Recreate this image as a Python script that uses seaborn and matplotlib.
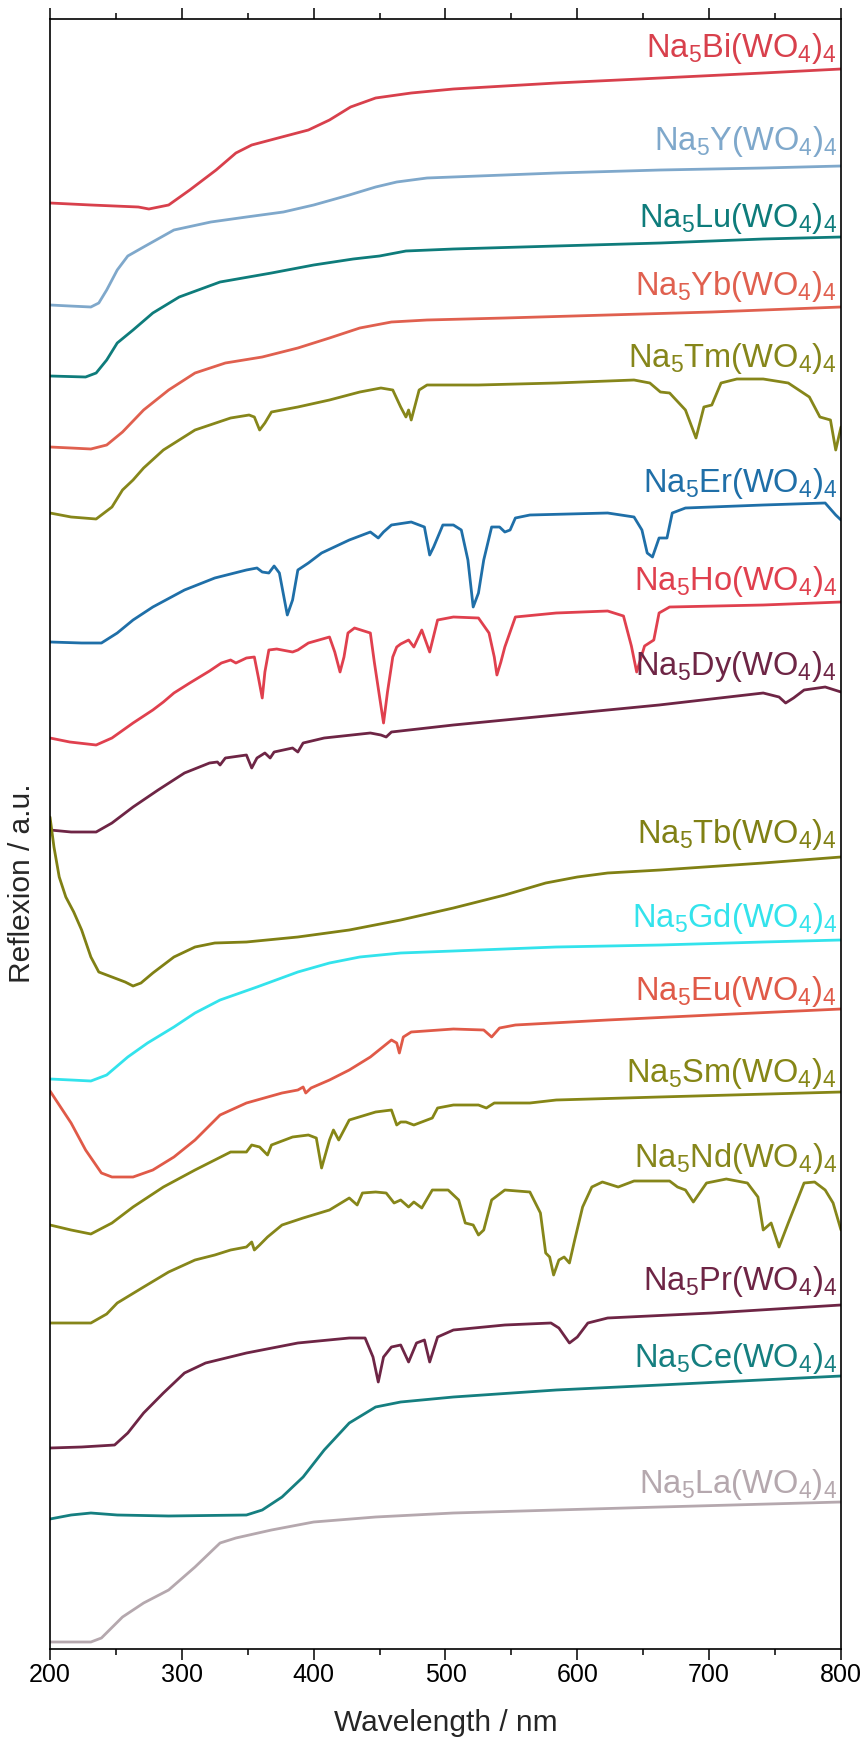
import matplotlib
matplotlib.use("Agg")
import matplotlib.pyplot as plt
import seaborn as sns
from matplotlib.ticker import MultipleLocator

# ---------------- data (wavelength / nm, reflexion / a.u., stacked) ----------------
wl_bi = [200, 231, 267, 275, 290, 306, 326, 341, 353, 373, 396, 412, 428, 447, 474, 506, 584, 663, 741, 800]
r_bi = [1444, 1442, 1440, 1438, 1442, 1457, 1477, 1494, 1502, 1509, 1517, 1527, 1540, 1549, 1554, 1558, 1564, 1569, 1574, 1578]

wl_y = [200, 215, 231, 237, 243, 251, 259, 271, 294, 322, 349, 377, 400, 427, 447, 463, 486, 525, 584, 663, 741, 800]
r_y = [1342, 1341, 1340, 1344, 1357, 1377, 1391, 1400, 1417, 1425, 1430, 1435, 1442, 1452, 1460, 1465, 1469, 1471, 1474, 1477, 1479, 1481]

wl_lu = [200, 227, 235, 243, 251, 263, 278, 298, 329, 368, 400, 430, 450, 470, 506, 584, 663, 741, 800]
r_lu = [1271, 1270, 1274, 1287, 1304, 1317, 1334, 1350, 1365, 1374, 1382, 1388, 1391, 1396, 1398, 1401, 1404, 1408, 1410]

wl_yb = [200, 216, 231, 243, 255, 271, 290, 310, 333, 361, 388, 412, 435, 459, 486, 545, 623, 702, 800]
r_yb = [1200, 1199, 1198, 1202, 1215, 1237, 1257, 1274, 1284, 1290, 1299, 1309, 1319, 1325, 1327, 1329, 1332, 1335, 1340]

wl_tm = [200, 216, 235, 247, 255, 263, 271, 286, 310, 337, 351, 355, 359, 363, 368, 388, 412, 435, 451,
         460, 466, 470, 472, 474, 480, 486, 525, 584, 643, 655, 663, 670, 682, 690, 696, 702, 709, 721,
         741, 760, 776, 784, 792, 796, 800]
r_tm = [1134, 1130, 1128, 1140, 1157, 1167, 1179, 1197, 1217, 1229, 1232, 1230, 1217, 1224, 1235, 1240, 1247, 1255, 1259,
        1257, 1240, 1230, 1237, 1227, 1257, 1262, 1262, 1264, 1267, 1264, 1255, 1254, 1237, 1209, 1240, 1242, 1264, 1268,
        1268, 1264, 1250, 1230, 1227, 1197, 1220]

wl_er = [200, 224, 239, 251, 263, 278, 302, 325, 349, 357, 361, 366, 370, 374, 380, 384, 388, 396, 406, 427,
         443, 449, 453, 459, 474, 484, 488, 491, 498, 506, 512, 517, 521, 525, 529, 535, 541, 545, 549, 553,
         564, 623, 643, 649, 653, 657, 662, 668, 672, 682, 741, 788, 796, 800]
r_er = [1005, 1004, 1004, 1014, 1027, 1040, 1057, 1069, 1077, 1079, 1075, 1074, 1081, 1074, 1032, 1047, 1077, 1084, 1094, 1107,
        1115, 1109, 1115, 1122, 1125, 1120, 1092, 1100, 1122, 1122, 1117, 1087, 1040, 1054, 1087, 1120, 1120, 1115, 1117, 1129,
        1132, 1134, 1130, 1117, 1094, 1090, 1109, 1109, 1134, 1139, 1142, 1144, 1132, 1127]

wl_ho = [200, 215, 235, 247, 263, 278, 286, 294, 306, 321, 330, 337, 341, 349, 355, 358, 361, 363, 366, 372,
         384, 388, 396, 412, 416, 420, 423, 426, 431, 443, 446, 450, 453, 456, 460, 463, 466, 472, 476, 482,
         488, 494, 506, 525, 533, 537, 539, 542, 545, 553, 584, 623, 635, 641, 645, 651, 658, 662, 670, 741, 800]
r_ho = [909, 905, 902, 909, 924, 937, 945, 954, 964, 976, 984, 987, 984, 989, 990, 970, 949, 975, 997, 998,
        995, 997, 1004, 1010, 995, 975, 990, 1014, 1019, 1014, 985, 950, 924, 955, 990, 1000, 1003, 1007, 1000, 1017,
        995, 1027, 1030, 1029, 1014, 990, 972, 985, 1000, 1030, 1034, 1036, 1031, 1001, 975, 1001, 1007, 1034, 1040, 1042, 1045]

wl_dy = [200, 216, 235, 247, 263, 282, 302, 321, 327, 329, 333, 349, 353, 357, 363, 367, 370, 384, 388, 392,
         408, 443, 451, 455, 459, 506, 584, 662, 741, 753, 758, 764, 772, 788, 800]
r_dy = [817, 815, 815, 824, 840, 857, 874, 884, 885, 882, 889, 892, 879, 889, 894, 889, 895, 899, 895, 904,
        909, 914, 912, 910, 915, 922, 932, 942, 954, 950, 944, 949, 957, 960, 955]

wl_tb = [200, 203, 207, 212, 218, 224, 231, 237, 247, 257, 263, 269, 278, 294, 310, 325, 349, 388, 427, 466,
         506, 545, 576, 600, 623, 663, 741, 800]
r_tb = [830, 800, 770, 750, 735, 717, 690, 675, 670, 665, 661, 664, 674, 690, 700, 704, 705, 710, 717, 727,
        739, 752, 764, 770, 774, 777, 784, 790]

wl_gd = [200, 216, 231, 243, 259, 274, 294, 310, 329, 357, 388, 412, 435, 466, 506, 584, 663, 741, 800]
r_gd = [568, 567, 566, 572, 590, 604, 620, 634, 647, 660, 675, 684, 690, 694, 696, 700, 702, 705, 707]

wl_eu = [200, 203, 216, 227, 239, 247, 263, 278, 294, 310, 329, 349, 376, 388, 392, 394, 398, 412, 427, 443,
         459, 463, 465, 468, 474, 506, 529, 535, 541, 553, 623, 702, 800]
r_eu = [556, 550, 524, 497, 474, 470, 470, 477, 490, 507, 532, 544, 554, 557, 560, 554, 559, 567, 577, 590,
        607, 604, 594, 610, 615, 618, 617, 610, 619, 622, 627, 632, 638]

wl_sm = [200, 216, 231, 247, 263, 286, 310, 337, 349, 353, 359, 365, 368, 384, 396, 402, 406, 412, 415, 419,
         427, 447, 459, 463, 466, 470, 476, 482, 490, 494, 506, 525, 531, 537, 564, 584, 662, 800]
r_sm = [422, 417, 413, 424, 440, 460, 477, 495, 495, 502, 500, 492, 502, 510, 512, 509, 479, 507, 517, 507,
        527, 535, 537, 522, 525, 525, 522, 525, 529, 539, 542, 542, 539, 544, 544, 547, 550, 555]

wl_nd = [200, 231, 243, 251, 271, 290, 310, 325, 337, 349, 353, 355, 359, 365, 376, 392, 412, 427, 433, 437,
         447, 455, 461, 466, 472, 476, 482, 490, 502, 510, 515, 521, 525, 529, 535, 545, 564, 572, 576, 579,
         582, 586, 590, 594, 598, 604, 611, 619, 631, 643, 670, 676, 682, 688, 698, 713, 729, 737, 741, 747,
         753, 760, 772, 780, 788, 794, 800]
r_nd = [324, 324, 333, 344, 360, 375, 387, 392, 397, 400, 405, 397, 402, 410, 422, 429, 437, 449, 442, 454,
        455, 454, 444, 447, 440, 445, 439, 457, 457, 447, 424, 422, 412, 417, 447, 457, 455, 434, 394, 390,
        372, 387, 390, 384, 407, 440, 460, 465, 460, 466, 466, 460, 457, 445, 464, 468, 464, 450, 417, 424,
        400, 424, 464, 465, 457, 444, 417]

wl_pr = [200, 224, 249, 259, 271, 286, 302, 318, 349, 388, 427, 439, 445, 449, 453, 459, 466, 472, 478, 484,
         488, 494, 506, 545, 580, 586, 594, 600, 608, 623, 702, 800]
r_pr = [199, 200, 202, 214, 234, 254, 274, 284, 294, 304, 309, 309, 290, 265, 290, 300, 302, 285, 304, 307,
        285, 310, 317, 322, 324, 319, 304, 310, 324, 329, 334, 342]

wl_ce = [200, 216, 231, 251, 290, 349, 361, 376, 392, 408, 427, 447, 466, 506, 584, 663, 800]
r_ce = [128, 132, 134, 132, 131, 132, 137, 150, 170, 197, 224, 240, 245, 250, 257, 262, 271]

wl_la = [200, 231, 239, 255, 271, 290, 310, 329, 341, 368, 400, 447, 506, 584, 663, 800]
r_la = [5, 5, 9, 30, 44, 57, 80, 104, 109, 117, 125, 130, 134, 137, 140, 145]

names = ["Bi", "Y", "Lu", "Yb", "Tm", "Er", "Ho", "Dy", "Tb", "Gd", "Eu", "Sm", "Nd", "Pr", "Ce", "La"]

# ---------------- styles / layout ----------------
colors = ["#d8404c", "#7fa8cb", "#0e7c7b", "#e0604f", "#86861a", "#1f6fa8", "#e0404e", "#6e2545",
          "#808014", "#33e3ec", "#e05a48", "#868616", "#86861a", "#6e2545", "#157f80", "#b5a8ae"]
label_base = [1590, 1497, 1420, 1352, 1280, 1155, 1057, 972, 804, 720, 647, 565, 480, 357, 280, 154]

series = [
    (wl_bi, r_bi), (wl_y, r_y), (wl_lu, r_lu), (wl_yb, r_yb), (wl_tm, r_tm), (wl_er, r_er),
    (wl_ho, r_ho), (wl_dy, r_dy), (wl_tb, r_tb), (wl_gd, r_gd), (wl_eu, r_eu), (wl_sm, r_sm),
    (wl_nd, r_nd), (wl_pr, r_pr), (wl_ce, r_ce), (wl_la, r_la),
]

sns.set_style("ticks")
plt.rcParams["font.family"] = ["Liberation Sans", "DejaVu Sans"]
plt.rcParams["mathtext.fontset"] = "custom"
plt.rcParams["mathtext.rm"] = "Liberation Sans"
plt.rcParams["mathtext.it"] = "Liberation Sans:italic"
plt.rcParams["mathtext.bf"] = "Liberation Sans:bold"
plt.rcParams["mathtext.default"] = "regular"

W, H = 866, 1742
fig = plt.figure(figsize=(W / 100, H / 100), dpi=100)
ax = fig.add_axes([50 / W, 1 - 1649 / H, (841 - 50) / W, (1649 - 19) / H])

for (wl, r), name, col, lb in zip(series, names, colors, label_base):
    sns.lineplot(x=wl, y=r, color=col, lw=2.0, ax=ax, estimator=None, sort=False)
    ax.text(797, lb, "Na$_5$" + name + "(WO$_4$)$_4$", color=col, fontsize=23.5,
            ha="right", va="baseline")

ax.set_xlim(200, 800)
ax.set_ylim(-2, 1628)
ax.set_yticks([])
ax.xaxis.set_major_locator(MultipleLocator(100))
ax.xaxis.set_minor_locator(MultipleLocator(50))
ax.tick_params(axis="x", which="both", direction="out", top=True, bottom=True,
               labeltop=False, colors="black")
ax.tick_params(axis="x", which="major", length=8, width=1.1, labelsize=18, pad=2)
ax.tick_params(axis="x", which="minor", length=4, width=1.1)
for s in ax.spines.values():
    s.set_visible(True)
    s.set_linewidth(1.2)
    s.set_color("black")

ax.set_xlabel("Wavelength / nm", fontsize=21.5, labelpad=16)
ax.set_ylabel("Reflexion / a.u.", fontsize=21.5)
ax.yaxis.set_label_coords(-0.018, 0.47)

fig.savefig("out.png", dpi=100)
